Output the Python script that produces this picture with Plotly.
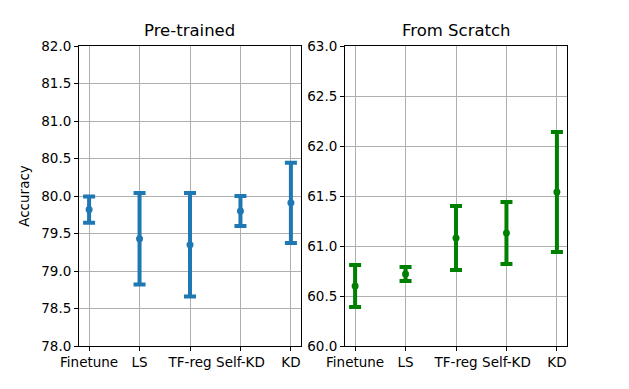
import plotly.graph_objects as go

methods = ["Finetune", "LS", "TF-reg", "Self-KD", "KD"]

pre_mean = [79.82, 79.43, 79.35, 79.80, 79.91]
pre_err = [0.175, 0.61, 0.69, 0.20, 0.535]

scratch_mean = [60.60, 60.72, 61.08, 61.13, 61.54]
scratch_err = [0.21, 0.07, 0.32, 0.31, 0.60]

FONT = "DejaVu Sans"
GRID = "#b0b0b0"


def errbar(y, err, color, xa, ya):
    return go.Scatter(
        x=list(range(len(methods))), y=y, mode="markers",
        marker=dict(color=color, size=7),
        error_y=dict(type="data", array=err, visible=True,
                     color=color, thickness=4, width=6),
        xaxis=xa, yaxis=ya, showlegend=False,
    )


fig = go.Figure()
fig.add_trace(errbar(pre_mean, pre_err, "#1f77b4", "x", "y"))
fig.add_trace(errbar(scratch_mean, scratch_err, "#008000", "x2", "y2"))

xcommon = dict(tickmode="array", tickvals=list(range(len(methods))), ticktext=methods,
               range=[-0.2, 4.2], showgrid=True, gridcolor=GRID, gridwidth=1,
               zeroline=False, showline=True, linecolor="black", linewidth=1, mirror=True,
               ticks="outside", ticklen=4, tickcolor="black", automargin=False,
               tickfont=dict(family=FONT, size=13.5, color="black"))
ycommon = dict(dtick=0.5, tickformat=".1f", showgrid=True, gridcolor=GRID, gridwidth=1,
               zeroline=False, showline=True, linecolor="black", linewidth=1, mirror=True,
               ticks="outside", ticklen=4, tickcolor="black", automargin=False,
               tickfont=dict(family=FONT, size=13.5, color="black"))

# the page body adds an 8px offset, so margins are shifted to compensate
fig.update_layout(
    width=629, height=389,
    paper_bgcolor="white", plot_bgcolor="white",
    margin=dict(l=71, r=70, t=38, b=51),
    font=dict(family=FONT, size=13.5, color="black"),
    xaxis=dict(domain=[0, 0.4549], anchor="y", **xcommon),
    yaxis=dict(domain=[0, 1], anchor="x", range=[78, 82],
               title=dict(text="Accuracy", font=dict(family=FONT, size=13.5), standoff=8),
               **ycommon),
    xaxis2=dict(domain=[0.5451, 1], anchor="y2", **xcommon),
    yaxis2=dict(domain=[0, 1], anchor="x2", range=[60, 63], **ycommon),
    annotations=[
        dict(text="Pre-trained", x=0.22745, y=1, xref="paper", yref="paper",
             xanchor="center", yanchor="bottom", yshift=4, showarrow=False,
             font=dict(family=FONT, size=16.5, color="black")),
        dict(text="From Scratch", x=0.77255, y=1, xref="paper", yref="paper",
             xanchor="center", yanchor="bottom", yshift=4, showarrow=False,
             font=dict(family=FONT, size=16.5, color="black")),
    ],
)

fig.write_html("out.html")
